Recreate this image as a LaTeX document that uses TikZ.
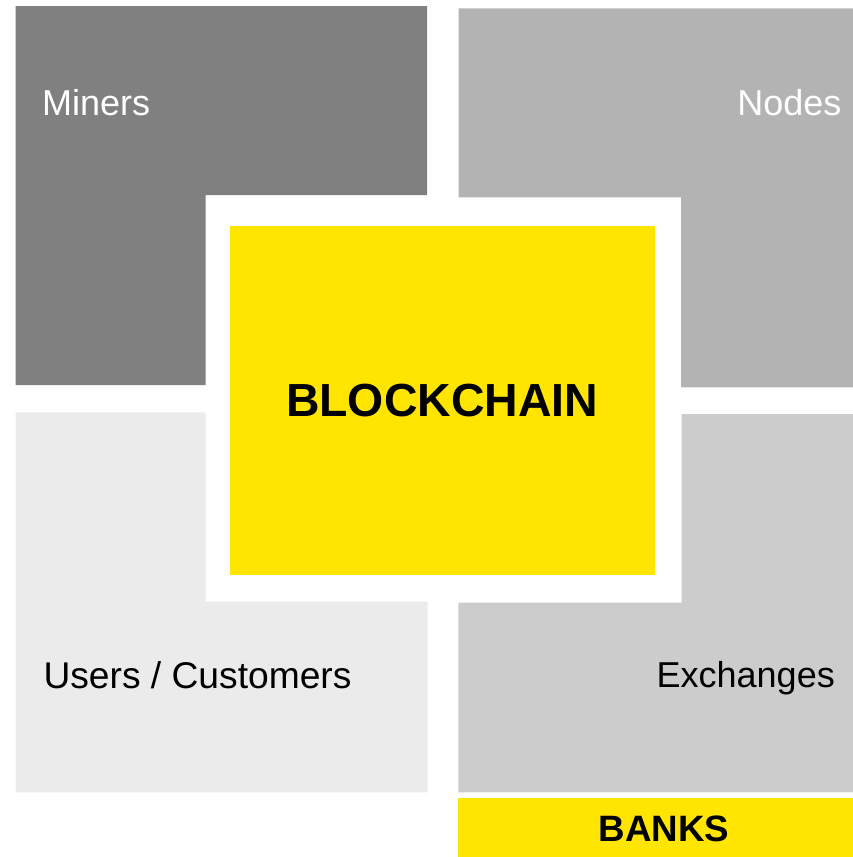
\documentclass[tikz,border=0pt]{standalone}
\usepackage{fontspec}
\setmainfont{Liberation Sans}
\definecolor{minergray}{HTML}{808080}
\definecolor{nodegray}{HTML}{B3B3B3}
\definecolor{usergray}{HTML}{EBEBEB}
\definecolor{exchgray}{HTML}{CCCCCC}
\definecolor{chainyellow}{HTML}{FFE500}
\begin{document}
\begin{tikzpicture}[x=1pt,y=-1pt,
  label/.style={inner sep=0pt,font=\fontsize{36}{36}\selectfont},
  boldlabel/.style={inner sep=0pt,font=\fontsize{36}{36}\selectfont\bfseries}]
\useasboundingbox (0,0) rectangle (853,857);
% four L-shaped quarters around the centre
\fill[minergray] (15.5,6) -- (427,6) -- (427,195) -- (205.5,195) -- (205.5,385) -- (15.5,385) -- cycle;
\fill[nodegray] (458.7,8.3) -- (853,8.3) -- (853,387.3) -- (681,387.3) -- (681,197.3) -- (458.7,197.3) -- cycle;
\fill[usergray] (15.5,412.3) -- (205.7,412.3) -- (205.7,601.7) -- (427.7,601.7) -- (427.7,792.3) -- (15.5,792.3) -- cycle;
\fill[exchgray] (681.7,414) -- (853,414) -- (853,792.3) -- (458.3,792.3) -- (458.3,602.7) -- (681.7,602.7) -- cycle;
% central block and bottom bar
\fill[chainyellow] (230,226) rectangle (655,575);
\fill[chainyellow] (458.3,797.7) rectangle (853,857);
% labels
\node[label,white,anchor=base west] (miners) at (42,115) {Miners};
\node[label,white,anchor=base east] (nodes) at (841.7,115) {Nodes};
\node[label,font=\fontsize{37.2}{37.2}\selectfont,anchor=base west] (users) at (43.3,688.3) {Users / Customers};
\node[label,anchor=base east] (exch) at (835,687.7) {Exchanges};
\node[boldlabel,font=\fontsize{46.4}{46.4}\selectfont\bfseries,anchor=base] (chain) at (442,416.7) {BLOCKCHAIN};
\node[boldlabel,font=\fontsize{36.7}{36.7}\selectfont\bfseries,anchor=base] (banks) at (664,841.7) {BANKS};
\end{tikzpicture}
\end{document}
